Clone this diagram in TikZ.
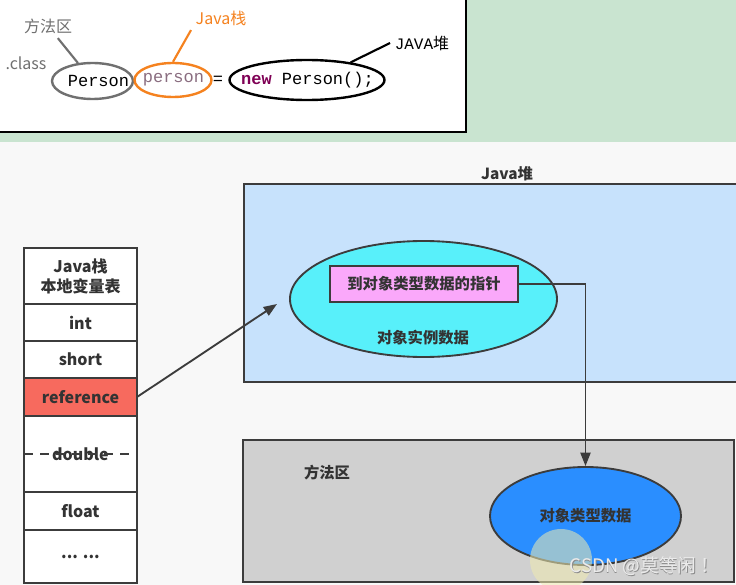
\documentclass[tikz,border=0pt]{standalone}
\usepackage{fontspec}
\setmainfont{Noto Sans CJK SC}
\newfontfamily\codefont{Liberation Mono}
\usepackage{xcolor}
\definecolor{jvmLine}{HTML}{3C3C3C}
\definecolor{jvmText}{HTML}{333333}
\definecolor{jvmPage}{HTML}{F8F8F8}
\definecolor{jvmMint}{HTML}{C9E4D0}
\definecolor{jvmHeap}{HTML}{C7E2FC}
\definecolor{jvmMeth}{HTML}{D0D0D0}
\definecolor{jvmCyan}{HTML}{58F0FA}
\definecolor{jvmPink}{HTML}{FAA8FA}
\definecolor{jvmBlue}{HTML}{2A8EFF}
\definecolor{jvmRed}{HTML}{F76A5E}
\definecolor{jvmOrange}{HTML}{F5821F}
\definecolor{jvmGrayTxt}{HTML}{707070}
\definecolor{jvmMauve}{HTML}{8A6D80}
\definecolor{jvmPurple}{HTML}{7F0055}
\definecolor{jvmGlow}{HTML}{F0EBB0}
\usepackage{tikz}
\usetikzlibrary{positioning, arrows.meta, shapes.geometric}

\begin{document}
\begin{tikzpicture}[
    x=0.75pt, y=-0.75pt,
    >={Triangle[length=10pt, width=7.5pt]},
    % stack table cells
    cell/.style={
        draw=jvmLine, line width=1.5pt, fill=white,
        minimum width=84.75pt, inner sep=0pt, outer sep=0pt,
        font=\bfseries\fontsize{12}{15}\selectfont, text=jvmText
    },
    area/.style={draw=jvmLine, line width=1.5pt, inner sep=0pt, outer sep=0pt},
    blob/.style={ellipse, draw=jvmLine, line width=1.4pt, inner sep=0pt},
    tag/.style={font=\bfseries\fontsize{11.5}{13}\selectfont, text=jvmText},
    link/.style={->, draw=jvmLine, line width=1.4pt},
    % top code snippet
    ring/.style={ellipse, line width=1.8pt, inner sep=0pt},
    code/.style={font=\codefont\fontsize{12.75}{14}\selectfont},
    note/.style={font=\fontsize{12}{14}\selectfont},
    wm/.style={font=\fontsize{14}{16}\selectfont, anchor=east},
]
\clip (0,0) rectangle (736,585);
\fill[jvmPage] (0,0) rectangle (736,585);

%% =================================================================
%% Code snippet panel (top)
%% =================================================================
\fill[jvmMint] (0,0) rectangle (736,142);
\draw[fill=white, draw=black, line width=1pt] (-5,-5) rectangle (466,132);

\node[note, text=jvmGrayTxt] (lblmeth) at (48,26) {方法区};
\node[note, text=jvmGrayTxt] (lblcls) at (26,63) {.class};
\node[note, text=jvmOrange] (lbljstk) at (221,18) {Java栈};
\node[note] (lblheap) at (422,43) {{\codefont JAVA}堆};

\node[code] (tcls) at (98.5,81) {Person};
\node[ring, draw=jvmGrayTxt, minimum width=60.75pt, minimum height=27pt] (rcls) at (92.5,81) {};
\node[code, text=jvmMauve] (tvar) at (173.5,80) {person};
\node[ring, draw=jvmOrange, minimum width=57.75pt, minimum height=25.5pt] (rvar) at (173,80) {};
\node[code] (teq) at (218,80) {=};
\node[code] (tobj) at (307.5,80) {\textbf{\color{jvmPurple}new} Person();};
\node[ring, draw=black, minimum width=116.25pt, minimum height=30pt] (robj) at (307,80) {};

\draw[jvmGrayTxt, line width=1.6pt] (lblmeth) -- (rcls);
\draw[jvmOrange, line width=1.6pt] (lbljstk.south west) -- (rvar.north);
\draw[black, line width=1.6pt] (lblheap.west) -- (robj.22);

%% =================================================================
%% Java stack: local variable table (left)
%% =================================================================
\node[cell, minimum height=42pt, align=center] (hdr) at (80.5,276) {Java栈\\本地变量表};
\node[cell, minimum height=27.75pt, below=0pt of hdr] (cint) {int};
\node[cell, minimum height=27.75pt, below=0pt of cint] (cshort) {short};
\node[cell, minimum height=28.5pt, fill=jvmRed, below=0pt of cshort] (cref) {reference};
\node[cell, minimum height=57pt, below=0pt of cref] (cdbl) {double};
\node[cell, minimum height=28.5pt, below=0pt of cdbl] (cflt) {float};
\node[cell, minimum height=39.75pt, below=0pt of cflt] (cdots) {... ...};
\draw[jvmLine, line width=1.3pt, dash pattern=on 7pt off 5pt] (cdbl.west) -- (cdbl.east);

%% =================================================================
%% Java heap (top right)
%% =================================================================
\node[area, fill=jvmHeap, minimum width=394.5pt, minimum height=148.5pt] (heap) at (507,283) {};
\node[tag, above=-1pt of heap] (heaplbl) {Java堆};
\node[blob, fill=jvmCyan, minimum width=200.25pt, minimum height=87pt] (inst) at (423.5,299) {};
\node[tag, draw=jvmLine, line width=1.4pt, fill=jvmPink, minimum width=141pt, minimum height=27pt] (ptr) at (424,284) {到对象类型数据的指针};
\node[tag] (instlbl) at (423,338) {对象实例数据};

%% =================================================================
%% Method area (bottom right)
%% =================================================================
\node[area, fill=jvmMeth, minimum width=368.25pt, minimum height=106.5pt] (meth) at (488.5,511) {};
\node[tag] (methlbl) at (327,473) {方法区};
\node[blob, tag, fill=jvmBlue, minimum width=143.25pt, minimum height=73.5pt] (tdata) at (585.5,516) {对象类型数据};

%% =================================================================
%% Connectors
%% =================================================================
\coordinate (hit) at (277,304);
\draw[link] (cref.east) -- (hit);
\draw[link] (ptr.east) -| (tdata.north);

% screen capture leftovers
\fill[jvmGlow, opacity=0.55] (561,560) circle (31);
\node[wm, text=black!45] (wshadow) at (724.8,566.8) {CSDN @莫等闲 ！};
\node[wm, text=white!92!black] (wmark) at (724,566) {CSDN @莫等闲 ！};

\end{tikzpicture}
\end{document}
